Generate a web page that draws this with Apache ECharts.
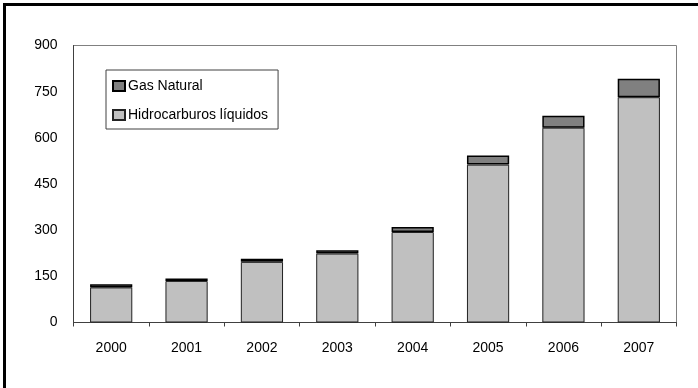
<!DOCTYPE html>
<html><head><meta charset="utf-8">
<script src="https://cdn.jsdelivr.net/npm/echarts@6/dist/echarts.min.js"></script>
<style>html,body{margin:0;padding:0;background:#fff}#c{width:698px;height:388px}</style>
</head><body><div id="c"></div>
<script>
var years = ['2000','2001','2002','2003','2004','2005','2006','2007'];
var liquidos = [114, 135, 197, 224, 294, 513, 633, 732];
var gas = [10, 8, 10, 11, 16, 30, 39, 60];
var yTicks = [0, 150, 300, 450, 600, 750, 900];
var FONT = '"Liberation Sans", Arial, sans-serif';

var chart = echarts.init(document.getElementById('c'), null, {renderer: 'canvas'});
chart.setOption({
  animation: false,
  backgroundColor: '#fff',
  grid: {left: 73.5, right: 21.5, top: 45.5, bottom: 65.5, show: true, borderColor: '#808080', borderWidth: 1},
  legend: {
    orient: 'vertical', left: 106, top: 70,
    data: ['Gas Natural', 'Hidrocarburos líquidos'],
    icon: 'rect',
    itemWidth: 12, itemHeight: 10, itemGap: 15,
    padding: [9, 10, 7, 6],
    borderColor: '#404040', borderWidth: 1, backgroundColor: '#fff',
    textStyle: {fontFamily: FONT, fontSize: 14, color: '#000', padding: [0,0,0,-2]}
  },
  xAxis: {
    type: 'category', data: years,
    axisLine: {lineStyle: {color: '#404040', width: 1}},
    axisTick: {show: true, length: 4, lineStyle: {color: '#404040'}},
    axisLabel: {fontFamily: FONT, fontSize: 14, color: '#000', margin: 19}
  },
  yAxis: {
    type: 'value', min: yTicks[0], max: yTicks[yTicks.length-1], interval: yTicks[1]-yTicks[0],
    splitLine: {show: false},
    axisLine: {show: true, lineStyle: {color: '#404040', width: 1}},
    axisTick: {show: false},
    axisLabel: {fontFamily: FONT, fontSize: 14, color: '#000', margin: 16}
  },
  series: [
    {name: 'Hidrocarburos líquidos', type: 'bar', stack: 't', data: liquidos, barWidth: '56%',
     itemStyle: {color: '#C0C0C0', borderColor: '#222', borderWidth: 1}},
    {name: 'Gas Natural', type: 'bar', stack: 't', data: gas, barWidth: '56%',
     itemStyle: {color: '#808080', borderColor: '#000', borderWidth: 1.5}}
  ],
  graphic: [{type: 'rect', shape: {x: 4.5, y: 4.5, width: 720, height: 420}, style: {fill: null, stroke: '#000', lineWidth: 3}, silent: true}]
});
</script></body></html>
